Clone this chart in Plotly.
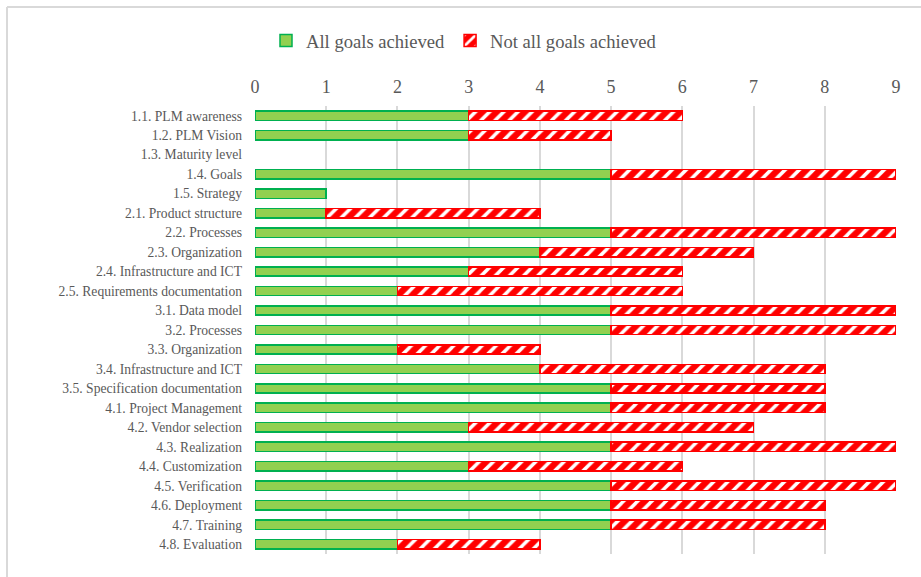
import plotly.graph_objects as go

categories = ["1.1. PLM awareness", "1.2. PLM Vision", "1.3. Maturity level", "1.4. Goals",
              "1.5. Strategy", "2.1. Product structure", "2.2. Processes", "2.3. Organization",
              "2.4. Infrastructure and ICT", "2.5. Requirements documentation", "3.1. Data model",
              "3.2. Processes", "3.3. Organization", "3.4. Infrastructure and ICT",
              "3.5. Specification documentation", "4.1. Project Management", "4.2. Vendor selection",
              "4.3. Realization", "4.4. Customization", "4.5. Verification", "4.6. Deployment",
              "4.7. Training", "4.8. Evaluation"]
all_achieved = [3, 3, 0, 5, 1, 1, 5, 4, 3, 2, 5, 5, 2, 4, 5, 5, 3, 5, 3, 5, 5, 5, 2]
not_all_achieved = [3, 2, 0, 4, 0, 3, 4, 3, 3, 4, 4, 4, 2, 4, 3, 3, 4, 4, 3, 4, 3, 3, 2]
x_ticks = list(range(0, 10))

FONT = "Liberation Serif, Times New Roman, serif"
TXT = "#595959"

def nz(vals):
    return [v if v else None for v in vals]

fig = go.Figure()
fig.add_trace(go.Bar(
    y=categories, x=nz(all_achieved), orientation="h", name="All goals achieved",
    marker=dict(color="#92D050", line=dict(color="#00B050", width=1.5)),
))
fig.add_trace(go.Bar(
    y=categories, x=nz(not_all_achieved), orientation="h", name="Not all goals achieved",
    marker=dict(color="#FF0000", line=dict(color="#FF0000", width=1.5),
                pattern=dict(shape="/", fillmode="replace", bgcolor="#FF0000",
                             fgcolor="#FFFFFF", size=10, solidity=0.35)),
))

L, R, T, B = 255, 25, 106, 23
pw = 921 - L - R
ph = 577 - T - B
bx = (7 - L) / pw
by = 1 + (T - 7) / ph

fig.update_layout(
    barmode="stack",
    bargap=0.52,
    width=921, height=577,
    paper_bgcolor="white", plot_bgcolor="white",
    margin=dict(l=L, r=R, t=T, b=B, autoexpand=False),
    font=dict(family=FONT, color=TXT, size=13.6),
    legend=dict(orientation="h", x=(266 - L) / pw, xanchor="left", y=0.962, yanchor="top",
                yref="container", font=dict(family=FONT, size=18.6, color=TXT),
                traceorder="normal", itemwidth=30),
    xaxis=dict(side="top", range=[0, 9], tickvals=x_ticks, showgrid=True,
               gridcolor="#D9D9D9", gridwidth=2, zeroline=False, showline=False,
               tickfont=dict(family=FONT, size=18, color=TXT), ticks="",
               ticklabelstandoff=8, automargin=False, fixedrange=True),
    yaxis=dict(autorange="reversed", showgrid=False, showline=False, zeroline=False,
               ticks="", tickfont=dict(family=FONT, size=13.6, color=TXT),
               ticklabelstandoff=12, automargin=False, fixedrange=True),
    shapes=[
        dict(type="line", xref="paper", yref="paper", x0=bx, x1=1.2, y0=by, y1=by,
             line=dict(color="#D9D9D9", width=2)),
        dict(type="line", xref="paper", yref="paper", x0=bx, x1=bx, y0=by, y1=-0.2,
             line=dict(color="#D9D9D9", width=2)),
    ],
)

fig.write_html("out.html", config={"displayModeBar": False},
               post_script="document.body.style.margin='0';")
